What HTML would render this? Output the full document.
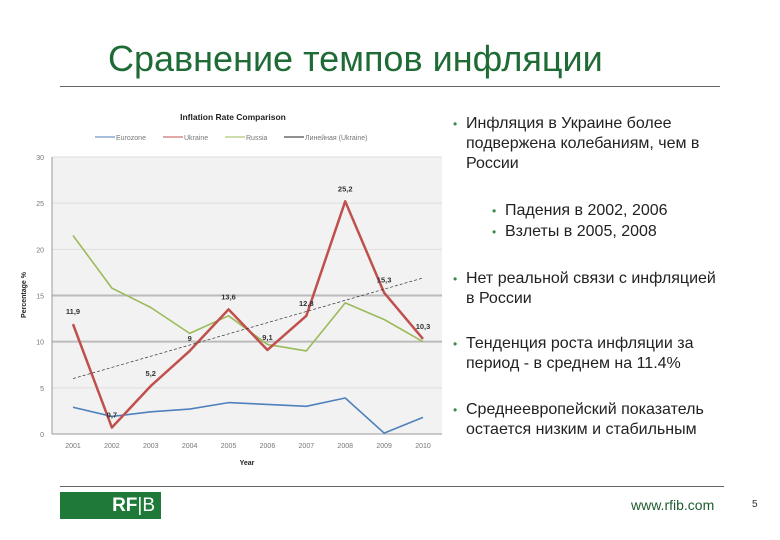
<!DOCTYPE html>
<html><head><meta charset="utf-8"><style>
body{margin:0;width:780px;height:540px;background:#fff;overflow:hidden;font-family:"Liberation Sans","DejaVu Sans",sans-serif;position:relative}
.t{position:absolute;left:108px;top:38px;font-size:36px;color:#1e6b35;white-space:nowrap}
.b{position:absolute;font-size:16px;line-height:20px;color:#222;white-space:nowrap}
.b::before{content:"•";position:absolute;left:-13px;color:#3a8a4a;font-size:12px}
</style></head><body>
<div class="t">Сравнение темпов инфляции</div>
<div style="position:absolute;left:60px;top:86px;width:660px;height:1px;background:#666"></div>
<svg id="chart" width="450" height="370" style="position:absolute;left:0;top:100px"></svg>
<div class="b" style="left:466px;top:114px">Инфляция в Украине более<br>подвержена колебаниям, чем в<br>России</div>
<div class="b" style="left:505px;top:201px">Падения в 2002, 2006</div>
<div class="b" style="left:505px;top:222px">Взлеты в 2005, 2008</div>
<div class="b" style="left:466px;top:269px">Нет реальной связи с инфляцией<br>в России</div>
<div class="b" style="left:466px;top:334px">Тенденция роста инфляции за<br>период - в среднем на 11.4%</div>
<div class="b" style="left:466px;top:400px">Среднеевропейский показатель<br>остается низким и стабильным</div>
<div style="position:absolute;left:60px;top:486px;width:664px;height:1px;background:#666"></div>
<div style="position:absolute;left:60px;top:492px;width:101px;height:27px;background:#1f7a3a;color:#fff;font-size:19px;line-height:27px;text-align:right;box-sizing:border-box;padding-right:6px"><b>RF</b>|B</div>
<div style="position:absolute;left:631px;top:497px;font-size:14px;color:#1e5a30">www.rfib.com</div>
<div style="position:absolute;left:752px;top:499px;font-size:10px;color:#333">5</div>
<script>
const years=['2001','2002','2003','2004','2005','2006','2007','2008','2009','2010'];
const eurozone=[2.9,1.9,2.4,2.7,3.4,3.2,3.0,3.9,0.1,1.8];
const ukraine=[11.9,0.7,5.2,9,13.5,9.1,12.8,25.2,15.3,10.3];
const ukraineLabels=['11,9','0,7','5,2','9','13,6','9,1','12,8','25,2','15,3','10,3'];
const russia=[21.5,15.8,13.7,10.9,12.8,9.7,9.0,14.2,12.4,10.0];
const trend=[6.0,16.9];
const yTicks=[0,5,10,15,20,25,30];
const NS='http://www.w3.org/2000/svg';
const svg=document.getElementById('chart');
const L=52,R=442,T=57,B=334;
const x=i=>73+i*(423-73)/(years.length-1);
const y=v=>B-v/30*(B-T);
function mk(tag,a,p){const e=document.createElementNS(NS,tag);for(const k in a)e.setAttribute(k,a[k]);(p||svg).appendChild(e);return e;}
let bg=mk('rect',{x:L,y:T,width:R-L,height:B-T,fill:'#f2f2f2'});


yTicks.forEach(v=>{
 const g=mk('line',{x1:L,x2:R,y1:y(v),y2:y(v),stroke:(v==10||v==15)?'#bbb':'#ddd','stroke-width':(v==10||v==15)?2:1});
 
 
 const t=mk('text',{x:44,y:y(v)+3,'text-anchor':'end','font-size':7,fill:'#777'});t.textContent=v;
 
 
});
mk('line',{x1:L,x2:L,y1:T,y2:B,stroke:'#999'});
mk('line',{x1:L,x2:R,y1:B,y2:B,stroke:'#999'});
years.forEach((yr,i)=>{
 const t=mk('text',{x:x(i),y:B+14,'text-anchor':'middle','font-size':7,fill:'#777'});t.textContent=yr;
 
 
});
function series(arr,col,w,name){
 const p=mk('polyline',{points:arr.map((v,i)=>x(i)+','+y(v)).join(' '),fill:'none',stroke:col,'stroke-width':w,'stroke-linejoin':'round'});
 
 
}
series(russia,'#9bbb59',1.6,'russia-line');
series(eurozone,'#4f81bd',1.6,'eurozone-line');
series(ukraine,'#c0504d',2.5,'ukraine-line');
const tl=mk('line',{x1:x(0),y1:y(trend[0]),x2:x(years.length-1),y2:y(trend[1]),stroke:'#333','stroke-width':0.7,'stroke-dasharray':'3,2'});


ukraine.forEach((v,i)=>{
 const t=mk('text',{x:x(i),y:y(v)-10,'text-anchor':'middle','font-size':7.5,'font-weight':'bold',fill:'#333'});t.textContent=ukraineLabels[i];
 
 
});
const tt=mk('text',{x:233,y:20,'text-anchor':'middle','font-size':8.5,'font-weight':'bold',fill:'#222'});tt.textContent='Inflation Rate Comparison';


const leg=[['Eurozone','#4f81bd',95],['Ukraine','#c0504d',163],['Russia','#9bbb59',225],['Линейная (Ukraine)','#222',284]];
leg.forEach(l=>{
 mk('line',{x1:l[2],x2:l[2]+20,y1:37,y2:37,stroke:l[1],'stroke-width':1});
 const t=mk('text',{x:l[2]+21,y:40,'font-size':7,fill:'#777'});t.textContent=l[0];
 
 
});
const yt=mk('text',{x:0,y:0,'font-size':7,'font-weight':'bold',fill:'#222','text-anchor':'middle',transform:'translate(26,195) rotate(-90)'});yt.textContent='Percentage %';


const xt=mk('text',{x:247,y:365,'font-size':7,'font-weight':'bold',fill:'#222','text-anchor':'middle'});xt.textContent='Year';


</script>
</body></html>
